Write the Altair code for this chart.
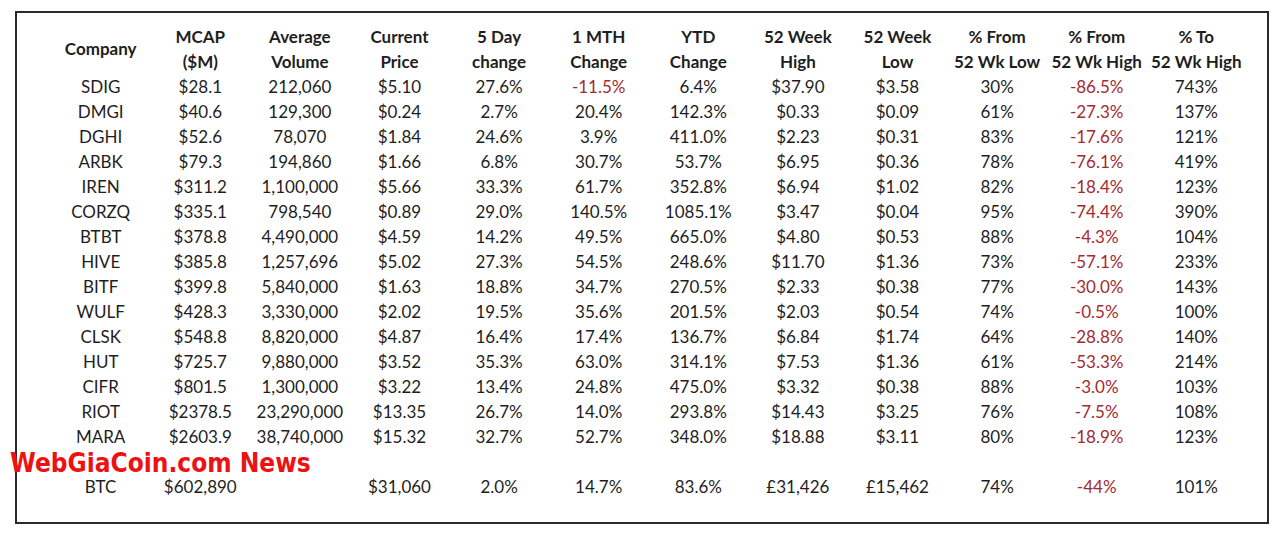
import altair as alt
import pandas as pd

headers = ["Company", "MCAP\n($M)", "Average\nVolume", "Current\nPrice", "5 Day\nchange",
           "1 MTH\nChange", "YTD\nChange", "52 Week\nHigh", "52 Week\nLow",
           "% From\n52 Wk Low", "% From\n52 Wk High", "% To\n52 Wk High"]

companies = ["SDIG", "DMGI", "DGHI", "ARBK", "IREN", "CORZQ", "BTBT", "HIVE", "BITF",
             "WULF", "CLSK", "HUT", "CIFR", "RIOT", "MARA", "BTC"]
mcap = ["$28.1", "$40.6", "$52.6", "$79.3", "$311.2", "$335.1", "$378.8", "$385.8", "$399.8",
        "$428.3", "$548.8", "$725.7", "$801.5", "$2378.5", "$2603.9", "$602,890"]
volume = ["212,060", "129,300", "78,070", "194,860", "1,100,000", "798,540", "4,490,000",
          "1,257,696", "5,840,000", "3,330,000", "8,820,000", "9,880,000", "1,300,000",
          "23,290,000", "38,740,000", ""]
price = ["$5.10", "$0.24", "$1.84", "$1.66", "$5.66", "$0.89", "$4.59", "$5.02", "$1.63",
         "$2.02", "$4.87", "$3.52", "$3.22", "$13.35", "$15.32", "$31,060"]
day5 = ["27.6%", "2.7%", "24.6%", "6.8%", "33.3%", "29.0%", "14.2%", "27.3%", "18.8%",
        "19.5%", "16.4%", "35.3%", "13.4%", "26.7%", "32.7%", "2.0%"]
mth1 = ["-11.5%", "20.4%", "3.9%", "30.7%", "61.7%", "140.5%", "49.5%", "54.5%", "34.7%",
        "35.6%", "17.4%", "63.0%", "24.8%", "14.0%", "52.7%", "14.7%"]
ytd = ["6.4%", "142.3%", "411.0%", "53.7%", "352.8%", "1085.1%", "665.0%", "248.6%", "270.5%",
       "201.5%", "136.7%", "314.1%", "475.0%", "293.8%", "348.0%", "83.6%"]
high52 = ["$37.90", "$0.33", "$2.23", "$6.95", "$6.94", "$3.47", "$4.80", "$11.70", "$2.33",
          "$2.03", "$6.84", "$7.53", "$3.32", "$14.43", "$18.88", "£31,426"]
low52 = ["$3.58", "$0.09", "$0.31", "$0.36", "$1.02", "$0.04", "$0.53", "$1.36", "$0.38",
         "$0.54", "$1.74", "$1.36", "$0.38", "$3.25", "$3.11", "£15,462"]
from_low = ["30%", "61%", "83%", "78%", "82%", "95%", "88%", "73%", "77%", "74%", "64%",
            "61%", "88%", "76%", "80%", "74%"]
from_high = ["-86.5%", "-27.3%", "-17.6%", "-76.1%", "-18.4%", "-74.4%", "-4.3%", "-57.1%",
             "-30.0%", "-0.5%", "-28.8%", "-53.3%", "-3.0%", "-7.5%", "-18.9%", "-44%"]
to_high = ["743%", "137%", "121%", "419%", "123%", "390%", "104%", "233%", "143%", "100%",
           "140%", "214%", "103%", "108%", "123%", "101%"]

columns = [companies, mcap, volume, price, day5, mth1, ytd, high52, low52,
           from_low, from_high, to_high]

# row slot for each company (BTC separated by one empty row)
row_slot = list(range(15)) + [16]

records = []
for c, col in enumerate(columns):
    for r, val in enumerate(col):
        if val == "":
            continue
        records.append({"col": c, "row": row_slot[r], "text": val,
                        "neg": val.startswith("-")})
body = pd.DataFrame(records)

head2 = pd.DataFrame({"col": list(range(1, len(headers))), "text": headers[1:]})
head1 = pd.DataFrame({"col": [0], "text": headers[:1]})

xscale = alt.Scale(domain=[-0.85, 11.72], nice=False, zero=False)
yscale = alt.Scale(domain=[-3.02, 17.42], nice=False, zero=False, reverse=True)

FONT = "Lato"
FS = 17

body_layer = alt.Chart(body).mark_text(font=FONT, fontSize=FS, align="center",
                                        baseline="middle").encode(
    x=alt.X("col:Q", scale=xscale, axis=None),
    y=alt.Y("row:Q", scale=yscale, axis=None),
    text="text:N",
    color=alt.condition("datum.neg", alt.value("#a32a33"), alt.value("#1e1e1e")),
)

head_layer = alt.Chart(head2).mark_text(font=FONT, fontSize=FS, fontWeight="bold",
                                         align="center", baseline="middle",
                                         lineBreak="\n", lineHeight=25,
                                         color="#1e1e1e").encode(
    x=alt.X("col:Q", scale=xscale, axis=None),
    y=alt.datum(-2, scale=yscale),
    text="text:N",
)

company_head = alt.Chart(head1).mark_text(font=FONT, fontSize=FS, fontWeight="bold",
                                           align="center", baseline="middle",
                                           color="#1e1e1e").encode(
    x=alt.X("col:Q", scale=xscale, axis=None),
    y=alt.datum(-1.5, scale=yscale),
    text="text:N",
)

wm = alt.Chart(pd.DataFrame({"t": ["WebGiaCoin.com News"]})).mark_text(
    font="DejaVu Sans Condensed", fontSize=26, fontWeight="bold", align="left",
    baseline="middle", color="#ee1111", dy=1).encode(
    x=alt.value(-6),
    y=alt.datum(15, scale=yscale),
    text="t:N",
)

chart = alt.layer(body_layer, head_layer, company_head, wm).properties(
    width=1252, height=511,
    padding={"left": 8, "top": 4, "right": 4, "bottom": 4},
    autosize=alt.AutoSizeParams(type="none"),
    background="white",
).configure_view(stroke="#2a2a2a", strokeWidth=2)

chart.save("out.html", embed_options={"renderer": "svg", "actions": False})
